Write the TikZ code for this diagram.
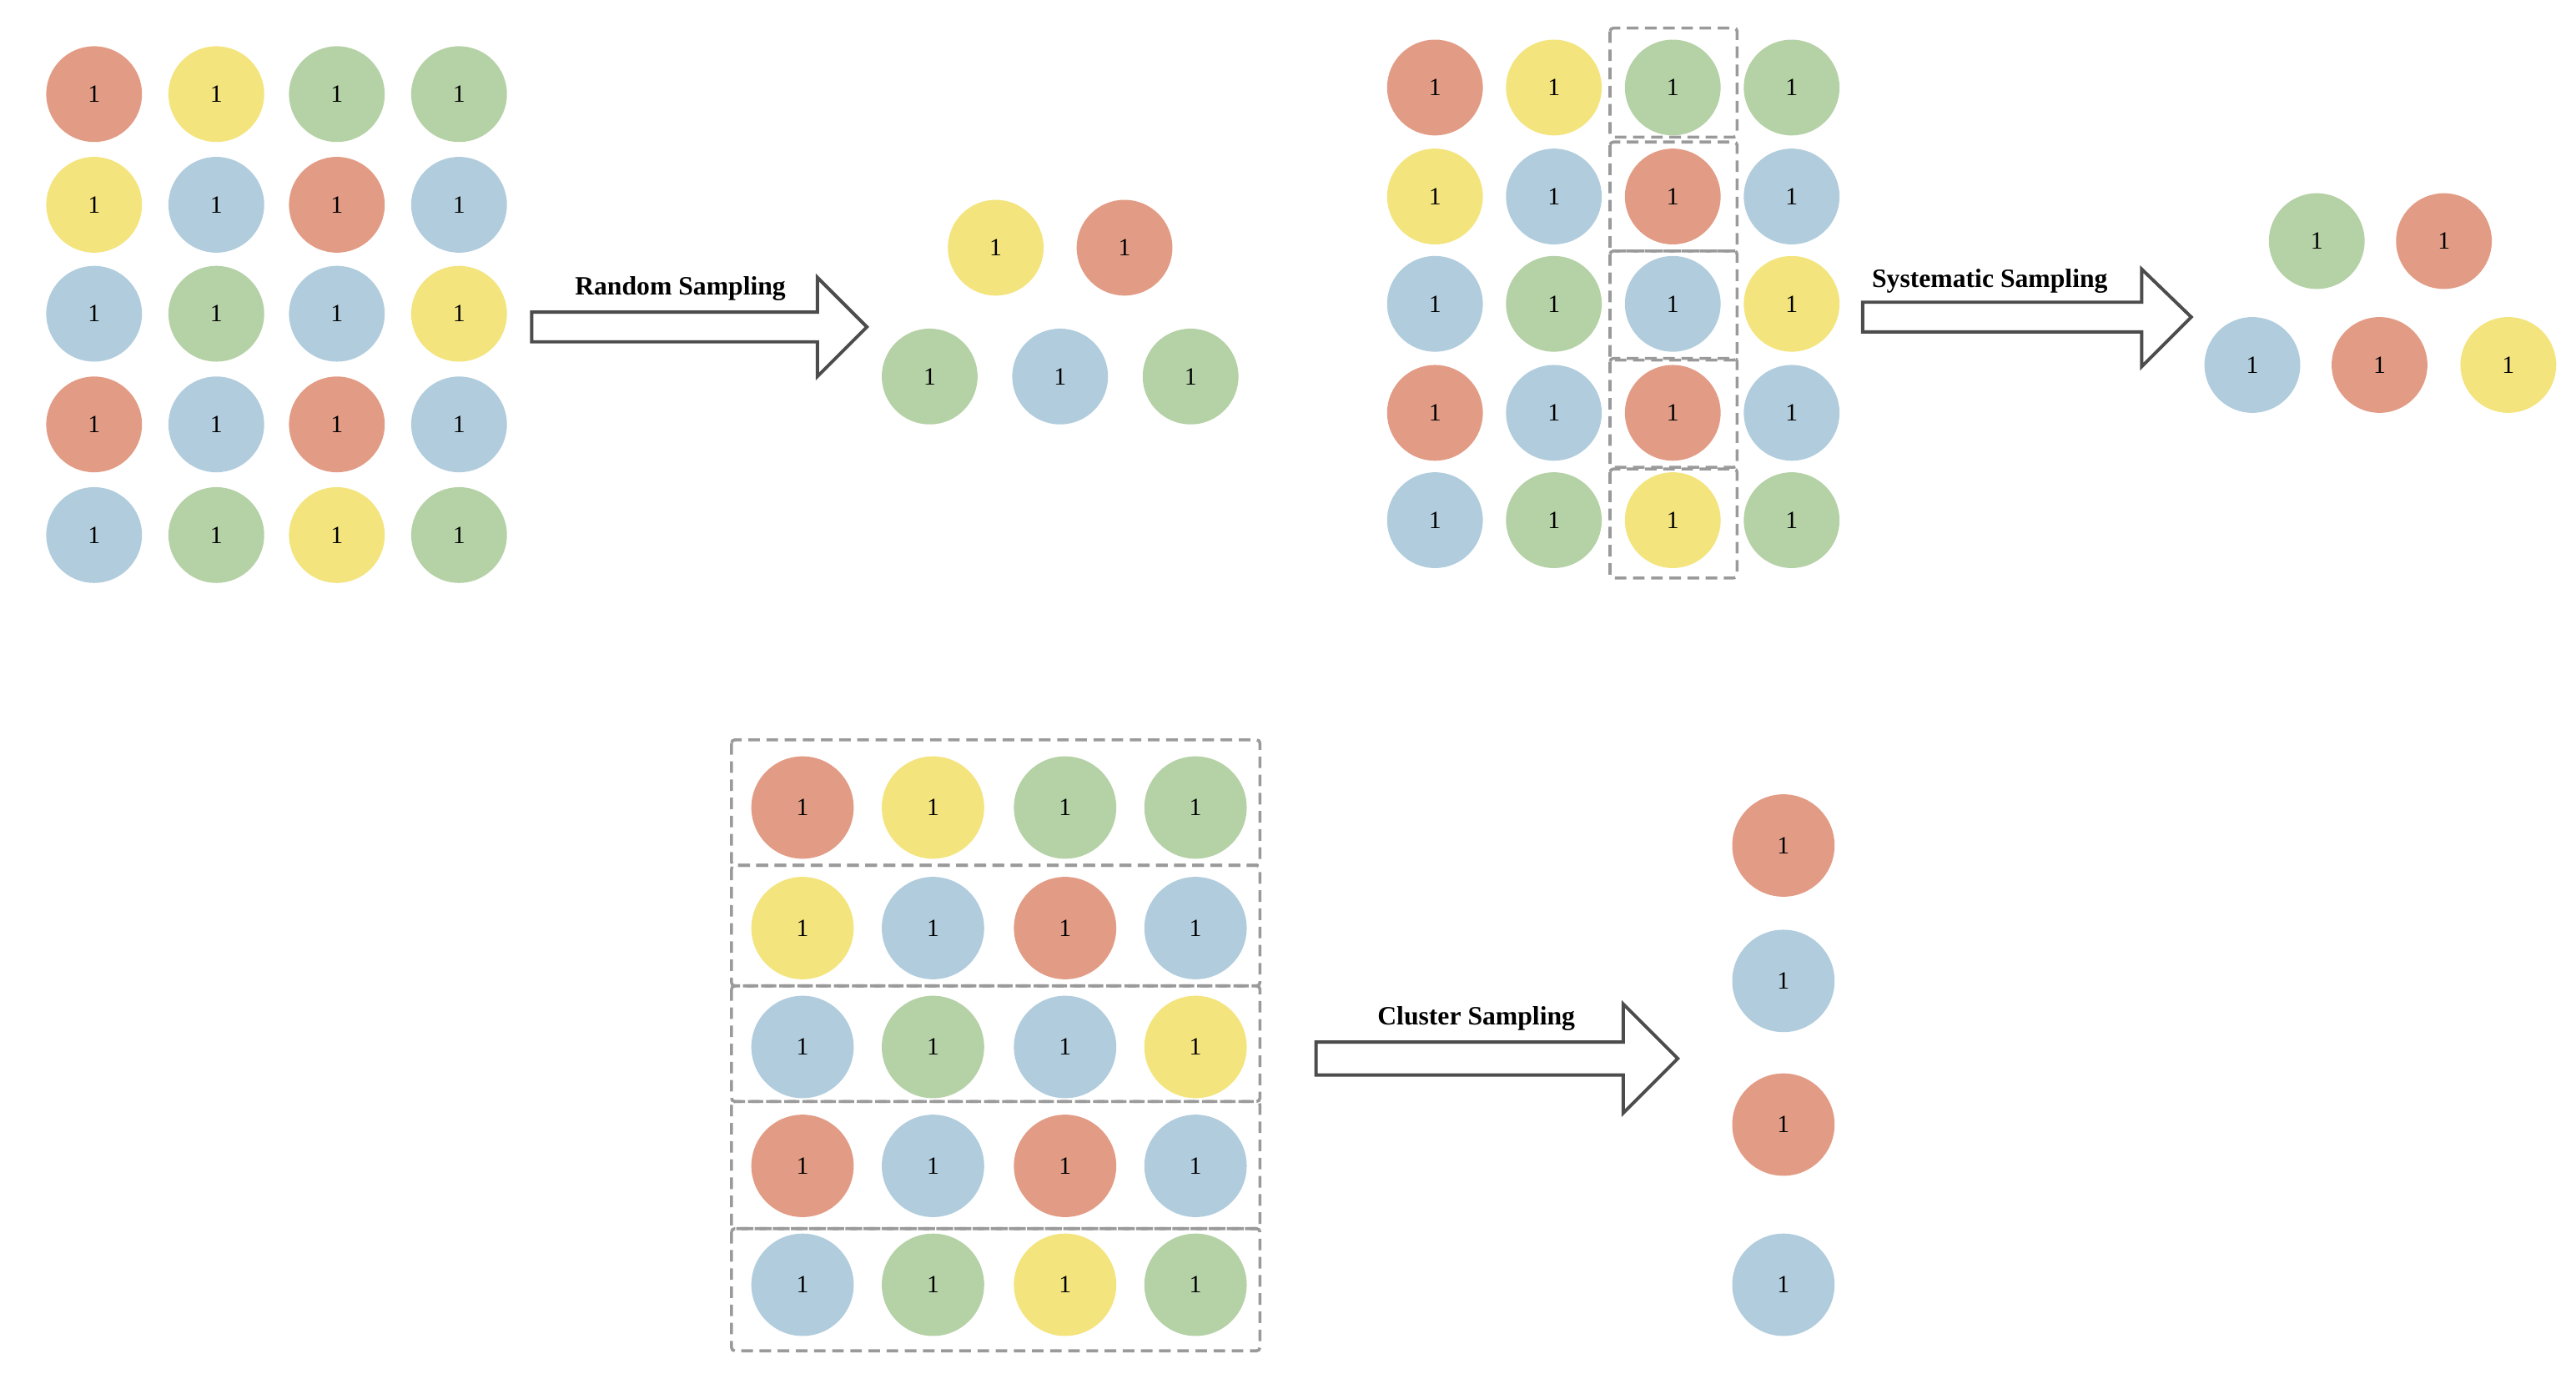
\documentclass[tikz,border=0pt]{standalone}
\usepackage{fontspec}
\setmainfont{Liberation Serif}
\begin{document}
\begin{tikzpicture}[x=1pt,y=-1pt,
 dot/.style={circle,minimum size=58pt,inner sep=0pt,font=\fontsize{15}{15}\selectfont},
 bdot/.style={dot,minimum size=62pt},
 R/.style={fill=cR},Y/.style={fill=cY},G/.style={fill=cG},B/.style={fill=cB},
 dbox/.style={draw=cD,line width=1.8pt,dash pattern=on 7pt off 4pt,rounded corners=2pt},
 bigarrow/.style={draw=black!70,line width=2pt,fill=white},
 lab/.style={font=\bfseries\fontsize{16}{16}\selectfont}]
\definecolor{cR}{HTML}{E29C85}
\definecolor{cY}{HTML}{F3E47E}
\definecolor{cG}{HTML}{B5D1A6}
\definecolor{cB}{HTML}{B1CDDD}
\definecolor{cD}{HTML}{9A9A9A}
\useasboundingbox (0,0) rectangle (1560,838);
\def\cols{{"R","Y","G","G"},{"Y","B","R","B"},{"B","G","B","Y"},{"R","B","R","B"},{"B","G","Y","G"}}
% top-left grid
\foreach \r/\y/\ca/\cb/\cc/\cd in {1/57/R/Y/G/G,2/124/Y/B/R/B,3/190/B/G/B/Y,4/257/R/B/R/B,5/324/B/G/Y/G}{
 \node[dot,\ca] (a\r1) at (57,\y) {1};
 \node[dot,\cb] (a\r2) at (131,\y) {1};
 \node[dot,\cc] (a\r3) at (204,\y) {1};
 \node[dot,\cd] (a\r4) at (278,\y) {1};}
\draw[bigarrow] (322,189) -- (495,189) -- (495,168) -- (525,198) -- (495,228) -- (495,207) -- (322,207) -- cycle;
\node[lab] (l1) at (412,175) {Random Sampling};
\node[dot,Y] (ra1) at (603,150) {1};
\node[dot,R] (ra2) at (681,150) {1};
\node[dot,G] (ra3) at (563,228) {1};
\node[dot,B] (ra4) at (642,228) {1};
\node[dot,G] (ra5) at (721,228) {1};
% top-right grid
\foreach \yy in {17,86,152,217,284}{\draw[dbox] (975,\yy) rectangle (1052,\yy+66);}
\foreach \r/\y/\ca/\cb/\cc/\cd in {1/53/R/Y/G/G,2/119/Y/B/R/B,3/184/B/G/B/Y,4/250/R/B/R/B,5/315/B/G/Y/G}{
 \node[dot,\ca] (b\r1) at (869,\y) {1};
 \node[dot,\cb] (b\r2) at (941,\y) {1};
 \node[dot,\cc] (b\r3) at (1013,\y) {1};
 \node[dot,\cd] (b\r4) at (1085,\y) {1};}
\draw[bigarrow] (1128,183) -- (1297,183) -- (1297,163) -- (1327,192) -- (1297,222) -- (1297,201) -- (1128,201) -- cycle;
\node[lab] (l2) at (1205,170) {Systematic Sampling};
\node[dot,G] (sa1) at (1403,146) {1};
\node[dot,R] (sa2) at (1480,146) {1};
\node[dot,B] (sa3) at (1364,221) {1};
\node[dot,R] (sa4) at (1441,221) {1};
\node[dot,Y] (sa5) at (1519,221) {1};
% bottom grid
\foreach \ya/\yb in {448/524,524/597,597/667,667/744,744/818}{\draw[dbox] (443,\ya) rectangle (763,\yb);}
\foreach \r/\y/\ca/\cb/\cc/\cd in {1/489/R/Y/G/G,2/562/Y/B/R/B,3/634/B/G/B/Y,4/706/R/B/R/B,5/778/B/G/Y/G}{
 \node[bdot,\ca] (c\r1) at (486,\y) {1};
 \node[bdot,\cb] (c\r2) at (565,\y) {1};
 \node[bdot,\cc] (c\r3) at (645,\y) {1};
 \node[bdot,\cd] (c\r4) at (724,\y) {1};}
\draw[bigarrow] (797,631) -- (983,631) -- (983,608) -- (1016,641) -- (983,674) -- (983,651) -- (797,651) -- cycle;
\node[lab] (l3) at (894,617) {Cluster Sampling};
\node[bdot,R] (ca1) at (1080,512) {1};
\node[bdot,B] (ca2) at (1080,594) {1};
\node[bdot,R] (ca3) at (1080,681) {1};
\node[bdot,B] (ca4) at (1080,778) {1};
\end{tikzpicture}
\end{document}
